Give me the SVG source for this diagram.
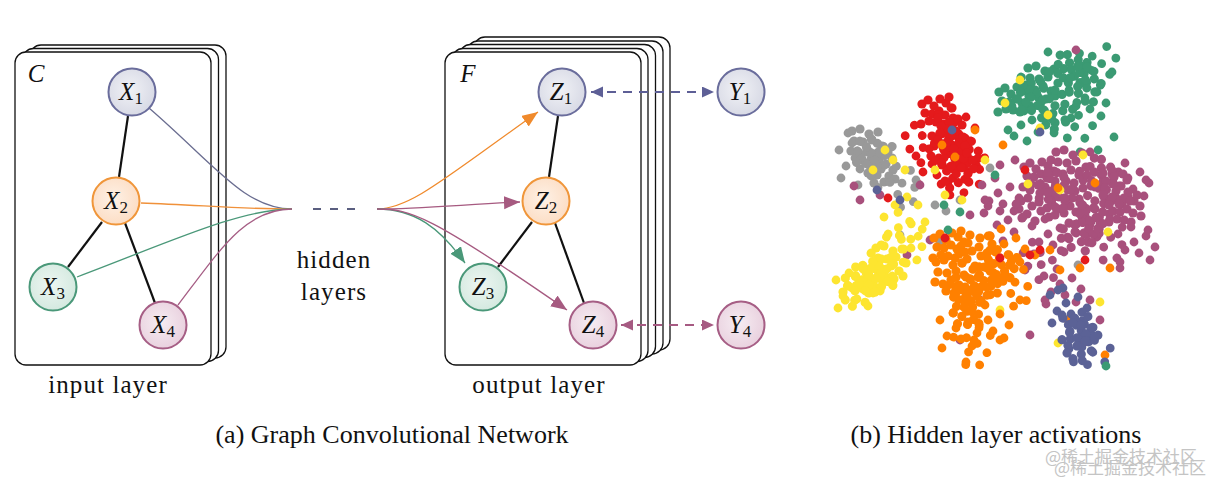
<svg xmlns="http://www.w3.org/2000/svg" xmlns:xlink="http://www.w3.org/1999/xlink" width="1221" height="479" viewBox="0 0 1221 479">
<style>
.card{fill:#fff;stroke:#111;stroke-width:1.3}
.lbl{font-family:"Liberation Serif",serif;font-size:25px;letter-spacing:1.1px;fill:#111}
.cap{font-family:"Liberation Serif",serif;font-size:26px;fill:#111}
.math{font-family:"Liberation Serif",serif;font-size:25px;fill:#111;text-anchor:middle}
.math .v{font-style:italic}
.math .s{font-size:17px}
.blk{stroke:#111;stroke-width:2.2;fill:none}
.thin{fill:none;stroke-width:1.3}
.nb{fill:url(#gB);stroke:#6a6d9c;stroke-width:2}
.no{fill:url(#gO);stroke:#f0963a;stroke-width:2}
.ng{fill:url(#gG);stroke:#4a9879;stroke-width:2}
.nm{fill:url(#gM);stroke:#a65e85;stroke-width:2}
.wm{font-family:"Noto Sans CJK SC","Liberation Sans",sans-serif;font-size:17px;fill:#c4c4c4}
</style>
<defs>
<radialGradient id="gB" cx="0.45" cy="0.45" r="0.6"><stop offset="0" stop-color="#f1f2f6"/><stop offset="1" stop-color="#d6d8e4"/></radialGradient>
<radialGradient id="gO" cx="0.45" cy="0.45" r="0.6"><stop offset="0" stop-color="#fef1e6"/><stop offset="1" stop-color="#fcdcc2"/></radialGradient>
<radialGradient id="gG" cx="0.45" cy="0.45" r="0.6"><stop offset="0" stop-color="#edf6f2"/><stop offset="1" stop-color="#d2e8de"/></radialGradient>
<radialGradient id="gM" cx="0.45" cy="0.45" r="0.6"><stop offset="0" stop-color="#f6ecf2"/><stop offset="1" stop-color="#e8cfdd"/></radialGradient>
<marker id="aO" markerUnits="userSpaceOnUse" markerWidth="17" markerHeight="14" refX="16" refY="6.5" orient="auto"><path d="M0,0 L16,6.5 L0,13 z" fill="#f08a2c"/></marker>
<marker id="aM" markerUnits="userSpaceOnUse" markerWidth="17" markerHeight="14" refX="16" refY="6.5" orient="auto"><path d="M0,0 L16,6.5 L0,13 z" fill="#a65a80"/></marker>
<marker id="aG" markerUnits="userSpaceOnUse" markerWidth="17" markerHeight="14" refX="16" refY="6.5" orient="auto"><path d="M0,0 L16,6.5 L0,13 z" fill="#4a9879"/></marker>
<marker id="dB" markerUnits="userSpaceOnUse" markerWidth="13" markerHeight="12" refX="12" refY="5.5" orient="auto-start-reverse"><path d="M0,0 L12,5.5 L0,11 z" fill="#5d5f96"/></marker>
<marker id="dM" markerUnits="userSpaceOnUse" markerWidth="13" markerHeight="12" refX="12" refY="5.5" orient="auto-start-reverse"><path d="M0,0 L12,5.5 L0,11 z" fill="#a65a82"/></marker>
<g id="b1"><circle cx="-16" cy="-8" r="4.6"/><circle cx="-10" cy="-12" r="4.6"/><circle cx="-4" cy="-6" r="4.6"/><circle cx="2" cy="-13" r="4.6"/><circle cx="8" cy="-9" r="4.6"/><circle cx="14" cy="-4" r="4.6"/><circle cx="-13" cy="1" r="4.6"/><circle cx="-6" cy="2" r="4.6"/><circle cx="1" cy="-1" r="4.6"/><circle cx="7" cy="3" r="4.6"/><circle cx="15" cy="6" r="4.6"/><circle cx="-9" cy="9" r="4.6"/><circle cx="-2" cy="10" r="4.6"/><circle cx="5" cy="12" r="4.6"/><circle cx="11" cy="-15" r="4.6"/><circle cx="-17" cy="12" r="4.6"/></g>
<g id="b2"><circle cx="-14" cy="-14" r="4.6"/><circle cx="-6" cy="-16" r="4.6"/><circle cx="3" cy="-11" r="4.6"/><circle cx="12" cy="-13" r="4.6"/><circle cx="-12" cy="-4" r="4.6"/><circle cx="-3" cy="-3" r="4.6"/><circle cx="6" cy="-5" r="4.6"/><circle cx="16" cy="1" r="4.6"/><circle cx="-15" cy="6" r="4.6"/><circle cx="-7" cy="8" r="4.6"/><circle cx="1" cy="4" r="4.6"/><circle cx="9" cy="9" r="4.6"/><circle cx="-4" cy="15" r="4.6"/><circle cx="4" cy="17" r="4.6"/><circle cx="13" cy="14" r="4.6"/></g>
<g id="b3"><circle cx="-18" cy="-10" r="4.4"/><circle cx="-5" cy="-17" r="4.4"/><circle cx="10" cy="-8" r="4.4"/><circle cx="19" cy="3" r="4.4"/><circle cx="-11" cy="6" r="4.4"/><circle cx="3" cy="9" r="4.4"/><circle cx="-2" cy="-2" r="4.4"/><circle cx="14" cy="16" r="4.4"/><circle cx="-16" cy="18" r="4.4"/></g>
</defs>
<rect width="1221" height="479" fill="#fff"/>

<!-- input card stack -->
<g id="input-stack">
<rect class="card" x="30" y="45" width="196" height="313" rx="11"/>
<rect class="card" x="22.5" y="48.5" width="196" height="313" rx="11"/>
<rect class="card" x="15" y="52" width="196" height="313" rx="11"/>
<text class="math" x="36" y="82"><tspan class="v">C</tspan></text>
</g>
<!-- output card stack -->
<g id="output-stack">
<rect class="card" x="474" y="37" width="196" height="313" rx="11"/>
<rect class="card" x="467" y="41" width="196" height="313" rx="11"/>
<rect class="card" x="459.5" y="44.5" width="196" height="313" rx="11"/>
<rect class="card" x="452" y="48.5" width="196" height="313" rx="11"/>
<rect class="card" x="445" y="52" width="196" height="313" rx="11"/>
<text class="math" x="468" y="82"><tspan class="v">F</tspan></text>
</g>

<g id="connectors">
<path class="blk" d="M128,116 L119,177"/>
<path class="blk" d="M102,222 L68,267"/>
<path class="blk" d="M125,223 L155,303"/>
<path class="blk" d="M558,116 L549,177"/>
<path class="blk" d="M532,222 L498,267"/>
<path class="blk" d="M555,223 L584,303"/>
<path class="thin" stroke="#6a6d90" d="M149,108 C215,165 245,209 292,209"/>
<path class="thin" stroke="#f0913a" d="M141,203 C200,205 240,209 292,209"/>
<path class="thin" stroke="#4a9879" d="M77,277 C170,242 240,209 292,209"/>
<path class="thin" stroke="#a65e85" d="M178,305 C220,250 245,209 292,209"/>
<path fill="none" stroke="#5a5e80" stroke-width="2.2" stroke-dasharray="8 9" d="M313,209 L356,209"/>
<path class="thin" stroke="#f08a2c" d="M377,209 C410,209 445,178 538,112" marker-end="url(#aO)"/>
<path class="thin" stroke="#a65a80" d="M377,209 C420,209 470,204 520,202" marker-end="url(#aM)"/>
<path class="thin" stroke="#4a9879" d="M377,209 C415,209 440,228 465,263" marker-end="url(#aG)"/>
<path class="thin" stroke="#a65a80" d="M377,209 C410,209 430,215 567,310" marker-end="url(#aM)"/>
<path fill="none" stroke="#5d5f96" stroke-width="2" stroke-dasharray="9 7" d="M591,92 L714,92" marker-start="url(#dB)" marker-end="url(#dB)"/>
<path fill="none" stroke="#a65a82" stroke-width="2" stroke-dasharray="9 7" d="M621,325 L714,325" marker-start="url(#dM)" marker-end="url(#dM)"/>
</g>

<g id="X1"><circle class="nb" cx="132" cy="92" r="23.5"/><text class="math" x="131" y="100"><tspan class="v">X</tspan><tspan class="s" dy="4">1</tspan></text></g>
<g id="X2"><circle class="no" cx="116" cy="201" r="23.5"/><text class="math" x="116" y="209"><tspan class="v">X</tspan><tspan class="s" dy="4">2</tspan></text></g>
<g id="X3"><circle class="ng" cx="53" cy="287" r="23.5"/><text class="math" x="53" y="295"><tspan class="v">X</tspan><tspan class="s" dy="4">3</tspan></text></g>
<g id="X4"><circle class="nm" cx="163" cy="325" r="23.5"/><text class="math" x="163" y="333"><tspan class="v">X</tspan><tspan class="s" dy="4">4</tspan></text></g>
<g id="Z1"><circle class="nb" cx="562" cy="92" r="23.5"/><text class="math" x="561" y="100"><tspan class="v">Z</tspan><tspan class="s" dy="4">1</tspan></text></g>
<g id="Z2"><circle class="no" cx="546" cy="201" r="23.5"/><text class="math" x="546" y="209"><tspan class="v">Z</tspan><tspan class="s" dy="4">2</tspan></text></g>
<g id="Z3"><circle class="ng" cx="483" cy="287" r="23.5"/><text class="math" x="483" y="295"><tspan class="v">Z</tspan><tspan class="s" dy="4">3</tspan></text></g>
<g id="Z4"><circle class="nm" cx="593" cy="325" r="23.5"/><text class="math" x="593" y="333"><tspan class="v">Z</tspan><tspan class="s" dy="4">4</tspan></text></g>
<g id="Y1"><circle class="nb" cx="741" cy="92" r="23.5"/><text class="math" x="740" y="100"><tspan class="v">Y</tspan><tspan class="s" dy="4">1</tspan></text></g>
<g id="Y4"><circle class="nm" cx="741" cy="325" r="23.5"/><text class="math" x="740" y="333"><tspan class="v">Y</tspan><tspan class="s" dy="4">4</tspan></text></g>

<text class="lbl" x="334" y="268" text-anchor="middle">hidden</text>
<text class="lbl" x="334" y="300" text-anchor="middle">layers</text>
<text class="lbl" x="108" y="393" text-anchor="middle">input layer</text>
<text class="lbl" x="539" y="393" text-anchor="middle">output layer</text>
<text class="cap" x="392" y="443" text-anchor="middle">(a) Graph Convolutional Network</text>
<text class="cap" x="996" y="443" text-anchor="middle">(b) Hidden layer activations</text>

<g id="scatter">
<g fill="#3b9a73">
<use href="#b1" transform="translate(1015,100)"/>
<use href="#b2" transform="translate(1042,82)"/>
<use href="#b1" transform="translate(1070,70) rotate(30)"/>
<use href="#b3" transform="translate(1100,66) rotate(80)"/>
<use href="#b2" transform="translate(1055,110) rotate(45)"/>
<use href="#b3" transform="translate(1087,100)"/>
<use href="#b3" transform="translate(1072,126) rotate(150)"/>
<use href="#b3" transform="translate(1030,122) rotate(90)"/>
<use href="#b1" transform="translate(1030,96) rotate(100)"/>
<use href="#b2" transform="translate(1085,84) rotate(200)"/>
<circle cx="1048" cy="52" r="4.4"/><circle cx="1112" cy="72" r="4.4"/><circle cx="1098" cy="150" r="4.4"/><circle cx="1114" cy="137" r="4.4"/><circle cx="1080" cy="152" r="4.4"/><circle cx="1008" cy="130" r="4.4"/>
</g>
<g fill="#e41a1c">
<use href="#b1" transform="translate(938,112)"/>
<use href="#b3" transform="translate(956,125)"/>
<use href="#b2" transform="translate(946,150)"/>
<use href="#b1" transform="translate(966,156) rotate(60)"/>
<use href="#b3" transform="translate(934,166)"/>
<use href="#b3" transform="translate(962,180) rotate(120)"/>
<use href="#b3" transform="translate(922,145) rotate(200)"/>
<use href="#b1" transform="translate(950,135) rotate(90)"/>
<use href="#b2" transform="translate(958,170) rotate(250)"/>
</g>
<g fill="#999999">
<use href="#b2" transform="translate(866,145)"/>
<use href="#b1" transform="translate(880,168) rotate(90)"/>
<use href="#b3" transform="translate(857,160)"/>
<use href="#b3" transform="translate(902,186) rotate(45)"/>
<use href="#b1" transform="translate(872,152) rotate(200)"/>
<circle cx="848" cy="133" r="4.4"/><circle cx="935" cy="205" r="4.4"/><circle cx="946" cy="211" r="4.4"/><circle cx="916" cy="180" r="4.4"/><circle cx="960" cy="200" r="4.4"/><circle cx="990" cy="168" r="4.4"/><circle cx="1078" cy="265" r="4.4"/><circle cx="900" cy="235" r="4.4"/><circle cx="858" cy="185" r="4.4"/><circle cx="940" cy="242" r="4.4"/>
</g>
<g fill="#a8507c">
<use href="#b1" transform="translate(1040,175)"/>
<use href="#b2" transform="translate(1070,166)"/>
<use href="#b1" transform="translate(1100,175) rotate(45)"/>
<use href="#b3" transform="translate(1130,180)"/>
<use href="#b2" transform="translate(1036,205) rotate(90)"/>
<use href="#b1" transform="translate(1066,200) rotate(180)"/>
<use href="#b2" transform="translate(1096,205) rotate(30)"/>
<use href="#b1" transform="translate(1126,210)"/>
<use href="#b3" transform="translate(1050,236)"/>
<use href="#b2" transform="translate(1080,234) rotate(120)"/>
<use href="#b3" transform="translate(1110,240) rotate(60)"/>
<use href="#b3" transform="translate(1136,244)"/>
<use href="#b3" transform="translate(1000,195)"/>
<use href="#b3" transform="translate(1006,222) rotate(90)"/>
<use href="#b3" transform="translate(1040,262) rotate(200)"/>
<use href="#b3" transform="translate(1062,286)"/>
<use href="#b1" transform="translate(1115,190) rotate(90)"/>
<use href="#b2" transform="translate(1055,190) rotate(200)"/>
<use href="#b1" transform="translate(1090,222) rotate(300)"/>
<circle cx="880" cy="195" r="4.4"/><circle cx="907" cy="255" r="4.4"/><circle cx="860" cy="200" r="4.4"/><circle cx="930" cy="240" r="4.4"/><circle cx="1000" cy="165" r="4.4"/><circle cx="985" cy="200" r="4.4"/><circle cx="970" cy="215" r="4.4"/><circle cx="1090" cy="300" r="4.4"/><circle cx="1100" cy="320" r="4.4"/><circle cx="1085" cy="342" r="4.4"/><circle cx="1045" cy="300" r="4.4"/><circle cx="1030" cy="335" r="4.4"/><circle cx="960" cy="340" r="4.4"/><circle cx="980" cy="300" r="4.4"/><circle cx="920" cy="185" r="4.4"/><circle cx="1000" cy="280" r="4.4"/><circle cx="1015" cy="160" r="4.4"/><circle cx="1090" cy="152" r="4.4"/><circle cx="1025" cy="270" r="4.4"/><circle cx="1146" cy="180" r="4.4"/><circle cx="1148" cy="230" r="4.4"/><circle cx="1120" cy="268" r="4.4"/><circle cx="1076" cy="50" r="4.4"/><circle cx="854" cy="186" r="4.4"/>
</g>
<g fill="#fde530">
<use href="#b1" transform="translate(868,280) rotate(20)"/>
<use href="#b2" transform="translate(890,262)"/>
<use href="#b3" transform="translate(910,242) rotate(60)"/>
<use href="#b3" transform="translate(854,290)"/>
<use href="#b3" transform="translate(900,230) rotate(10)"/>
<use href="#b1" transform="translate(880,272) rotate(100)"/>
<use href="#b2" transform="translate(858,288) rotate(60)"/>
<circle cx="885" cy="150" r="4.4"/><circle cx="873" cy="170" r="4.4"/><circle cx="893" cy="160" r="4.4"/><circle cx="905" cy="170" r="4.4"/><circle cx="918" cy="205" r="4.4"/><circle cx="935" cy="170" r="4.4"/><circle cx="945" cy="195" r="4.4"/><circle cx="962" cy="200" r="4.4"/><circle cx="985" cy="160" r="4.4"/><circle cx="1005" cy="103" r="4.4"/><circle cx="1020" cy="80" r="4.4"/><circle cx="1040" cy="128" r="4.4"/><circle cx="1048" cy="115" r="4.4"/><circle cx="1060" cy="190" r="4.4"/><circle cx="1108" cy="232" r="4.4"/><circle cx="1100" cy="302" r="4.4"/><circle cx="1058" cy="343" r="4.4"/><circle cx="1000" cy="310" r="4.4"/><circle cx="895" cy="205" r="4.4"/><circle cx="907" cy="197" r="4.4"/><circle cx="925" cy="222" r="4.4"/><circle cx="1028" cy="184" r="4.4"/><circle cx="1083" cy="155" r="4.4"/>
</g>
<g fill="#ff8000">
<use href="#b1" transform="translate(950,246)"/>
<use href="#b2" transform="translate(976,250) rotate(90)"/>
<use href="#b3" transform="translate(1006,246)"/>
<use href="#b2" transform="translate(950,276)"/>
<use href="#b1" transform="translate(985,280) rotate(200)"/>
<use href="#b3" transform="translate(1015,285) rotate(45)"/>
<use href="#b1" transform="translate(966,310) rotate(100)"/>
<use href="#b3" transform="translate(990,322)"/>
<use href="#b3" transform="translate(976,346) rotate(70)"/>
<use href="#b1" transform="translate(1000,265) rotate(30)"/>
<use href="#b2" transform="translate(968,290) rotate(150)"/>
<use href="#b3" transform="translate(958,330)"/>
<circle cx="942" cy="145" r="4.4"/><circle cx="955" cy="157" r="4.4"/><circle cx="975" cy="130" r="4.4"/><circle cx="1003" cy="145" r="4.4"/><circle cx="1060" cy="270" r="4.4"/><circle cx="1080" cy="268" r="4.4"/><circle cx="1110" cy="268" r="4.4"/><circle cx="1068" cy="320" r="4.4"/><circle cx="1105" cy="355" r="4.4"/><circle cx="1020" cy="300" r="4.4"/><circle cx="1035" cy="255" r="4.4"/><circle cx="1050" cy="250" r="4.4"/><circle cx="1000" cy="340" r="4.4"/><circle cx="966" cy="362" r="4.4"/><circle cx="1058" cy="188" r="4.4"/><circle cx="1095" cy="183" r="4.4"/>
</g>
<g fill="#5b6296">
<use href="#b3" transform="translate(1068,305)"/>
<use href="#b1" transform="translate(1080,330) rotate(70)"/>
<use href="#b3" transform="translate(1090,352) rotate(140)"/>
<use href="#b2" transform="translate(1078,342) rotate(30)"/>
<circle cx="877" cy="190" r="4.4"/><circle cx="900" cy="200" r="4.4"/><circle cx="952" cy="130" r="4.4"/><circle cx="1062" cy="315" r="4.4"/><circle cx="1040" cy="132" r="4.4"/><circle cx="1058" cy="290" r="4.4"/>
</g>
<g fill="#3b9a73">
<circle cx="948" cy="230" r="4.4"/><circle cx="944" cy="205" r="4.4"/><circle cx="995" cy="175" r="4.4"/><circle cx="960" cy="212" r="4.4"/><circle cx="1106" cy="366" r="4.4"/>
</g>
<g fill="#e41a1c">
<circle cx="1040" cy="250" r="4.4"/><circle cx="1085" cy="260" r="4.4"/><circle cx="1000" cy="258" r="4.4"/><circle cx="888" cy="198" r="4.4"/><circle cx="945" cy="238" r="4.4"/><circle cx="1025" cy="170" r="4.4"/><circle cx="1030" cy="255" r="4.4"/>
</g>
</g>

<text class="wm" x="1045" y="463">@稀土掘金技术社区</text>
<text class="wm" x="1054" y="474">@稀土掘金技术社区</text>
</svg>
